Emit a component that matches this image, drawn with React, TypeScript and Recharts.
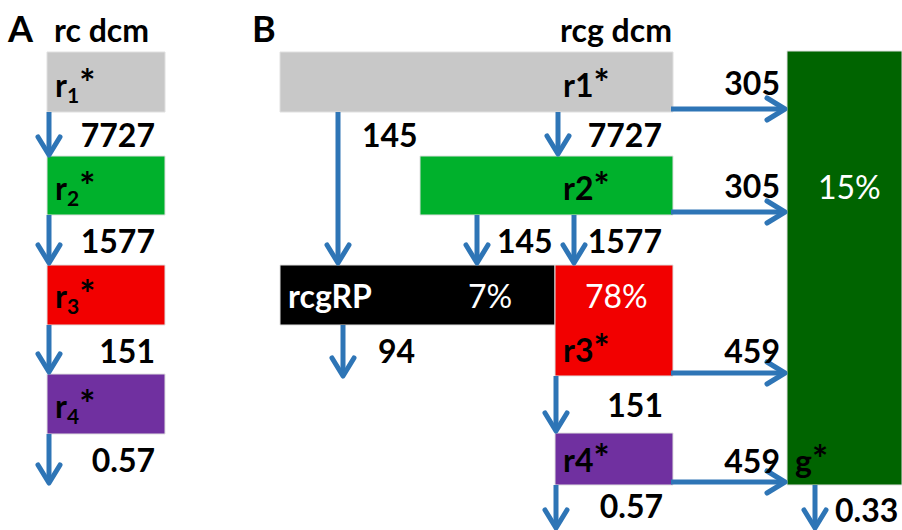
import React from "react";
import {
  ComposedChart,
  XAxis,
  YAxis,
  ReferenceArea,
  ReferenceLine,
  Scatter,
} from "recharts";

// diagram is laid out in a 902 x 530 data space (y grows downward)
const WIDTH = 902;
const HEIGHT = 530;
const BLUE = "#2e75b6";
const FONT = "Lato, 'Open Sans', sans-serif";

// boxes: x1, x2, y1, y2 in diagram units
const boxesA = [
  { id: "a1", x1: 47, x2: 165, y1: 52, y2: 112, fill: "#c8c8c8" },
  { id: "a2", x1: 47, x2: 165, y1: 156, y2: 215, fill: "#00b12c" },
  { id: "a3", x1: 47, x2: 165, y1: 265, y2: 325, fill: "#f20000" },
  { id: "a4", x1: 47, x2: 165, y1: 374, y2: 434, fill: "#7030a0" },
];

const boxesB = [
  { id: "b1", x1: 280, x2: 673, y1: 52, y2: 112, fill: "#c8c8c8" },
  { id: "b2", x1: 420, x2: 673, y1: 156, y2: 215, fill: "#00b12c" },
  { id: "bRP", x1: 280, x2: 555, y1: 265, y2: 325, fill: "#000000" },
  { id: "b3", x1: 555, x2: 673, y1: 265, y2: 376, fill: "#f20000" },
  { id: "b4", x1: 555, x2: 673, y1: 433, y2: 485, fill: "#7030a0" },
  { id: "g", x1: 787, x2: 902, y1: 51, y2: 485, fill: "#006400" },
];

// arrows: start -> tip
const arrows = [
  { x1: 49, y1: 112, x2: 49, y2: 155 },
  { x1: 49, y1: 215, x2: 49, y2: 263 },
  { x1: 49, y1: 325, x2: 49, y2: 372 },
  { x1: 49, y1: 434, x2: 49, y2: 483 },
  { x1: 338, y1: 112, x2: 338, y2: 263 },
  { x1: 558, y1: 112, x2: 558, y2: 154 },
  { x1: 477, y1: 215, x2: 477, y2: 263 },
  { x1: 574, y1: 215, x2: 574, y2: 263 },
  { x1: 343, y1: 325, x2: 343, y2: 376 },
  { x1: 556, y1: 376, x2: 556, y2: 431 },
  { x1: 556, y1: 485, x2: 556, y2: 528 },
  { x1: 815, y1: 485, x2: 815, y2: 528 },
  { x1: 671, y1: 109, x2: 785, y2: 109 },
  { x1: 671, y1: 212, x2: 785, y2: 212 },
  { x1: 671, y1: 373, x2: 785, y2: 373 },
  { x1: 671, y1: 482, x2: 785, y2: 482 },
];

// flux values
const fluxA = ["7727", "1577", "151", "0.57"];
const fluxB = ["145", "7727", "145", "1577", "94", "151", "0.57"];
const fluxToG = ["305", "305", "459", "459"];
const shares = ["7%", "78%", "15%"];

// text labels (x, baseline y)
const labels = [
  { x: 8, y: 42, text: "A", anchor: "start", size: 36 },
  { x: 54, y: 42, text: "rc dcm", anchor: "start" },
  { x: 155, y: 147, text: fluxA[0], anchor: "end" },
  { x: 155, y: 253, text: fluxA[1], anchor: "end" },
  { x: 155, y: 363, text: fluxA[2], anchor: "end" },
  { x: 155, y: 472, text: fluxA[3], anchor: "end" },
  { x: 55, y: 97, text: "r", sub: "1", anchor: "start" },
  { x: 55, y: 200, text: "r", sub: "2", anchor: "start" },
  { x: 55, y: 308, text: "r", sub: "3", anchor: "start" },
  { x: 55, y: 418, text: "r", sub: "4", anchor: "start" },

  { x: 252, y: 42, text: "B", anchor: "start", size: 36 },
  { x: 672, y: 42, text: "rcg dcm", anchor: "end" },
  { x: 563, y: 97, text: "r1", star: true, anchor: "start" },
  { x: 563, y: 200, text: "r2", star: true, anchor: "start" },
  { x: 362, y: 147, text: fluxB[0], anchor: "start" },
  { x: 662, y: 147, text: fluxB[1], anchor: "end" },
  { x: 497, y: 253, text: fluxB[2], anchor: "start" },
  { x: 662, y: 253, text: fluxB[3], anchor: "end" },
  { x: 288, y: 308, text: "rcgRP", anchor: "start", color: "#fff" },
  { x: 468, y: 308, text: shares[0], anchor: "start", color: "#fff", weight: 400 },
  { x: 585, y: 308, text: shares[1], anchor: "start", color: "#fff", weight: 400 },
  { x: 563, y: 362, text: "r3", star: true, anchor: "start" },
  { x: 378, y: 363, text: fluxB[4], anchor: "start" },
  { x: 663, y: 417, text: fluxB[5], anchor: "end" },
  { x: 563, y: 472, text: "r4", star: true, anchor: "start" },
  { x: 663, y: 518, text: fluxB[6], anchor: "end" },
  { x: 780, y: 95, text: fluxToG[0], anchor: "end" },
  { x: 780, y: 198, text: fluxToG[1], anchor: "end" },
  { x: 780, y: 363, text: fluxToG[2], anchor: "end" },
  { x: 780, y: 473, text: fluxToG[3], anchor: "end" },
  { x: 818, y: 199, text: shares[2], anchor: "start", color: "#fff", weight: 400 },
  { x: 795, y: 473, text: "g", star: true, anchor: "start" },
  { x: 835, y: 522, text: "0.33", anchor: "start" },
];

function Arrow(props: any) {
  const { x1, y1, x2, y2 } = props;
  const ang = Math.atan2(y2 - y1, x2 - x1);
  const back = 18;
  const half = 11;
  const bx = x2 - back * Math.cos(ang);
  const by = y2 - back * Math.sin(ang);
  const px = -Math.sin(ang) * half;
  const py = Math.cos(ang) * half;
  return (
    <g>
      <line x1={x1} y1={y1} x2={x2} y2={y2} stroke={BLUE} strokeWidth={5} />
      <polyline
        points={`${bx + px},${by + py} ${x2},${y2} ${bx - px},${by - py}`}
        fill="none"
        stroke={BLUE}
        strokeWidth={5}
        strokeLinecap="round"
        strokeLinejoin="round"
      />
    </g>
  );
}

function TextMark(props: any) {
  const { cx, cy, payload } = props;
  if (cx == null || cy == null) return null;
  const p = payload;
  return (
    <text
      x={cx}
      y={cy}
      textAnchor={p.anchor}
      fontFamily={FONT}
      fontWeight={p.weight ?? 700}
      fontSize={p.size ?? 32}
      fill={p.color ?? "#000"}
    >
      {p.text}
      {p.sub && (
        <>
          <tspan dy={6} fontSize={21}>
            {p.sub}
          </tspan>
          <tspan dy={-6} fontSize={38}>*</tspan>
        </>
      )}
      {p.star && <tspan fontSize={38}>*</tspan>}
    </text>
  );
}

export default function App() {
  return (
    <div style={{ position: "fixed", left: 0, top: 0, background: "#fff" }}>
      <ComposedChart
        width={WIDTH}
        height={HEIGHT}
        margin={{ top: 0, right: 0, bottom: 0, left: 0 }}
      >
        <XAxis type="number" dataKey="x" domain={[0, WIDTH]} hide allowDataOverflow />
        <YAxis
          type="number"
          dataKey="y"
          domain={[0, HEIGHT]}
          reversed
          hide
          allowDataOverflow
        />
        {[...boxesA, ...boxesB].map((b) => (
          <ReferenceArea
            key={b.id}
            x1={b.x1}
            x2={b.x2}
            y1={b.y1}
            y2={b.y2}
            fill={b.fill}
            fillOpacity={1}
            stroke="#e0e0e0"
            strokeWidth={1}
            ifOverflow="visible"
          />
        ))}
        {arrows.map((a, i) => (
          <ReferenceLine
            key={i}
            segment={[
              { x: a.x1, y: a.y1 },
              { x: a.x2, y: a.y2 },
            ]}
            ifOverflow="visible"
            shape={Arrow}
          />
        ))}
        <Scatter
          data={labels}
          dataKey="y"
          isAnimationActive={false}
          shape={TextMark}
        />
      </ComposedChart>
    </div>
  );
}
